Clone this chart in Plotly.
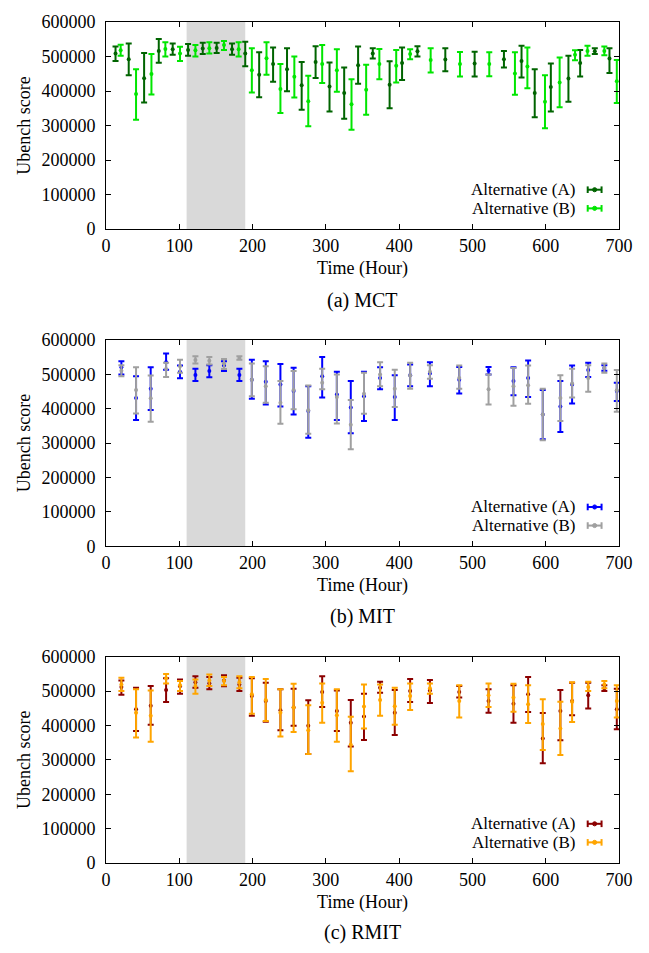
import plotly.graph_objects as go

# ---------------- data (values in thousands) ----------------
# Panel (a) MCT
mct_hours_a = [13, 31, 52, 72, 91, 112, 132, 151, 172, 190, 209, 228, 247, 267, 286, 305,
               325, 344, 364, 387, 404, 425, 463, 503, 543, 567, 585, 607, 631, 647, 667, 687]
mct_mean_a = [509, 492, 437, 516, 521, 519, 523, 525, 521, 509, 447, 478, 463, 417, 484, 413,
              394, 475, 509, 418, 481, 515, 491, 480, 492, 487, 394, 412, 436, 481, 515, 494]
mct_low_a = [487, 446, 367, 482, 505, 502, 507, 510, 505, 472, 382, 427, 399, 346, 438, 341,
             320, 421, 494, 350, 432, 500, 457, 442, 468, 439, 324, 341, 369, 442, 507, 452]
mct_high_a = [529, 538, 510, 551, 538, 536, 540, 540, 538, 543, 512, 526, 524, 484, 530, 483,
              468, 529, 524, 486, 526, 530, 524, 514, 516, 531, 463, 480, 502, 519, 524, 524]
mct_hours_b = [20, 41, 62, 81, 101, 122, 141, 161, 181, 199, 219, 238, 257, 276, 295, 315,
               335, 355, 373, 396, 415, 443, 483, 523, 558, 575, 599, 619, 640, 657, 680, 697]
mct_mean_b = [518, 391, 449, 522, 509, 518, 524, 533, 521, 460, 495, 406, 441, 370, 478, 460,
              362, 404, 478, 473, 507, 490, 478, 478, 451, 471, 369, 425, 505, 516, 516, 428]
mct_low_b = [502, 317, 390, 500, 487, 500, 509, 519, 500, 396, 447, 336, 381, 298, 423, 398,
             288, 331, 434, 425, 492, 454, 442, 443, 389, 408, 292, 353, 489, 502, 504, 365]
mct_high_b = [534, 463, 507, 541, 528, 533, 541, 545, 541, 524, 541, 478, 500, 444, 533, 521,
              434, 476, 522, 519, 521, 524, 513, 512, 512, 526, 446, 497, 518, 531, 529, 490]

# Panels (b) MIT and (c) RMIT share sampling hours
hours_2 = [21, 41, 61, 82, 101, 122, 141, 161, 182, 199, 218, 238, 256, 276, 295, 315,
           334, 352, 374, 394, 415, 442, 482, 522, 556, 576, 596, 620, 636, 658, 680, 697]

mit_mean_a = [520, 431, 458, 535, 507, 498, 509, 525, 498, 484, 478, 470, 451, 393, 494, 441,
              403, 436, 489, 434, 497, 502, 484, 510, 480, 489, 383, 406, 470, 512, 518, 451]
mit_low_a = [499, 367, 396, 513, 488, 480, 491, 509, 480, 429, 412, 406, 383, 315, 432, 367,
             328, 364, 456, 367, 465, 465, 444, 499, 439, 434, 311, 332, 415, 492, 510, 422]
mit_high_a = [538, 494, 520, 560, 525, 516, 526, 538, 516, 542, 538, 530, 519, 465, 550, 507,
              480, 507, 520, 497, 528, 535, 521, 521, 520, 540, 454, 480, 525, 533, 526, 475]
mit_mean_b = [510, 454, 430, 515, 523, 541, 539, 531, 547, 484, 465, 417, 454, 395, 475, 434,
              353, 443, 499, 458, 496, 507, 489, 456, 465, 468, 383, 431, 473, 489, 518, 453]
mit_low_b = [494, 386, 362, 492, 504, 531, 528, 515, 542, 436, 417, 356, 398, 327, 456, 357,
             282, 385, 465, 405, 458, 487, 458, 412, 408, 414, 308, 364, 432, 449, 504, 391]
mit_high_b = [526, 520, 496, 533, 542, 552, 550, 544, 552, 531, 523, 480, 509, 467, 516, 499,
              425, 504, 535, 513, 533, 526, 525, 499, 518, 525, 458, 497, 516, 526, 531, 512]

rmit_mean_a = [512, 447, 457, 503, 514, 526, 523, 531, 519, 486, 471, 444, 452, 399, 497, 442,
               408, 426, 510, 437, 500, 502, 497, 471, 463, 491, 362, 442, 471, 488, 508, 447]
rmit_low_a = [489, 384, 402, 468, 492, 510, 505, 514, 500, 428, 411, 386, 399, 317, 454, 384,
              339, 358, 495, 372, 468, 465, 481, 437, 408, 439, 290, 357, 430, 449, 500, 389]
rmit_high_a = [531, 510, 515, 537, 534, 543, 541, 546, 539, 537, 524, 505, 507, 473, 543, 502,
               474, 492, 527, 503, 535, 532, 515, 505, 517, 541, 436, 503, 524, 524, 517, 507]
rmit_mean_b = [519, 437, 428, 537, 517, 515, 531, 529, 526, 491, 474, 437, 452, 386, 466, 430,
               344, 455, 474, 456, 486, 508, 471, 488, 481, 462, 404, 391, 469, 512, 519, 471]
rmit_low_b = [500, 365, 353, 522, 500, 492, 515, 517, 508, 434, 413, 368, 381, 317, 408, 353,
              267, 391, 428, 402, 445, 492, 423, 454, 440, 407, 329, 314, 410, 500, 508, 423]
rmit_high_b = [539, 505, 502, 550, 529, 534, 548, 541, 543, 541, 535, 505, 521, 459, 522, 505,
               425, 519, 519, 510, 522, 522, 517, 522, 521, 517, 476, 469, 526, 527, 529, 517]

panel_titles = ["(a) MCT", "(b) MIT", "(c) RMIT"]
series_names = ["Alternative (A)", "Alternative (B)"]
x_ticks = [0, 100, 200, 300, 400, 500, 600, 700]
y_ticks = [0, 100000, 200000, 300000, 400000, 500000, 600000]
shade_start, shade_end = 110, 190

panels = [
    [(mct_hours_a, mct_mean_a, mct_low_a, mct_high_a, "#006400"),
     (mct_hours_b, mct_mean_b, mct_low_b, mct_high_b, "#00e600")],
    [(hours_2, mit_mean_a, mit_low_a, mit_high_a, "#0000ff"),
     (hours_2, mit_mean_b, mit_low_b, mit_high_b, "#a0a0a0")],
    [(hours_2, rmit_mean_a, rmit_low_a, rmit_high_a, "#8b0000"),
     (hours_2, rmit_mean_b, rmit_low_b, rmit_high_b, "#ffa500")],
]

# ---------------- figure ----------------
FONT = "Liberation Serif, Times New Roman, serif"
W, H = 649, 953
ML, MR, MT, MB = 106, 30, 17, 90
domains = [[0.7538, 1.0], [0.3767, 0.6221], [0.0, 0.2453]]
caption_y = [0.669, 0.293, -0.083]

fig = go.Figure()
layout_axes = {}
shapes = []
annotations = []

for i, series in enumerate(panels):
    k = "" if i == 0 else str(i + 1)
    xa, ya = "x" + k, "y" + k
    for (hrs, mean, low, high, color), name in zip(series, series_names):
        yv = [m * 1000 for m in mean]
        up = [(h - m) * 1000 for h, m in zip(high, mean)]
        dn = [(m - l) * 1000 for m, l in zip(mean, low)]
        fig.add_trace(go.Scatter(
            x=hrs, y=yv, mode="markers", name=name, showlegend=False,
            xaxis=xa, yaxis=ya,
            marker=dict(color=color, size=4),
            error_y=dict(type="data", symmetric=False, array=up, arrayminus=dn,
                         color=color, thickness=2, width=3),
            hoverinfo="skip",
        ))

    axcommon = dict(showline=True, linecolor="black", linewidth=1, mirror="ticks",
                    ticks="inside", ticklen=5, tickcolor="black", showgrid=False,
                    zeroline=False, tickfont=dict(family=FONT, size=18, color="black"))
    layout_axes["xaxis" + k] = dict(
        axcommon, domain=[0, 1], anchor=ya, range=[0, 700], tickvals=x_ticks,
        title=dict(text="Time (Hour)", font=dict(family=FONT, size=18, color="black"),
                   standoff=6))
    layout_axes["yaxis" + k] = dict(
        axcommon, domain=domains[i], anchor=xa, range=[0, 600000], tickvals=y_ticks,
        tickformat="d", ticklabelstandoff=6,
        title=dict(text="Ubench score", font=dict(family=FONT, size=18, color="black"),
                   standoff=6))

    # shaded interval
    shapes.append(dict(type="rect", xref=xa, yref=ya + " domain", x0=shade_start,
                       x1=shade_end, y0=0, y1=1, fillcolor="#d9d9d9",
                       line=dict(width=0), layer="below"))

    # legend keys (text + horizontal error-bar sample), bottom right
    for (hrs, mean, low, high, color), name, ly in zip(series, series_names, [0.19, 0.1]):
        annotations.append(dict(xref=xa + " domain", yref=ya + " domain", x=0.919, y=ly,
                                xanchor="right", yanchor="middle", showarrow=False,
                                text=name, font=dict(family=FONT, size=17, color="black")))
        x0, x1 = 0.939, 0.966
        cap = 0.016
        shapes.append(dict(type="line", xref=xa + " domain", yref=ya + " domain",
                           x0=x0, x1=x1, y0=ly, y1=ly, line=dict(color=color, width=2)))
        for xc in (x0, x1):
            shapes.append(dict(type="line", xref=xa + " domain", yref=ya + " domain",
                               x0=xc, x1=xc, y0=ly - cap, y1=ly + cap,
                               line=dict(color=color, width=2)))
        xm = (x0 + x1) / 2
        shapes.append(dict(type="circle", xref=xa + " domain", yref=ya + " domain",
                           x0=xm - 0.004, x1=xm + 0.004, y0=ly - 0.01, y1=ly + 0.01,
                           fillcolor=color, line=dict(color=color, width=1)))

    annotations.append(dict(xref="paper", yref="paper", x=0.5, y=caption_y[i],
                            xanchor="center", yanchor="middle", showarrow=False,
                            text=panel_titles[i],
                            font=dict(family=FONT, size=20, color="black")))

fig.update_layout(
    width=W, height=H,
    margin=dict(l=ML, r=MR, t=MT, b=MB),
    paper_bgcolor="white", plot_bgcolor="white",
    font=dict(family=FONT, size=18, color="black"),
    shapes=shapes, annotations=annotations, showlegend=False,
    hovermode=False,
    **layout_axes,
)

fig.write_html("out.html", config={"displayModeBar": False},
               post_script="document.body.style.margin='0';document.body.style.padding='0';")
